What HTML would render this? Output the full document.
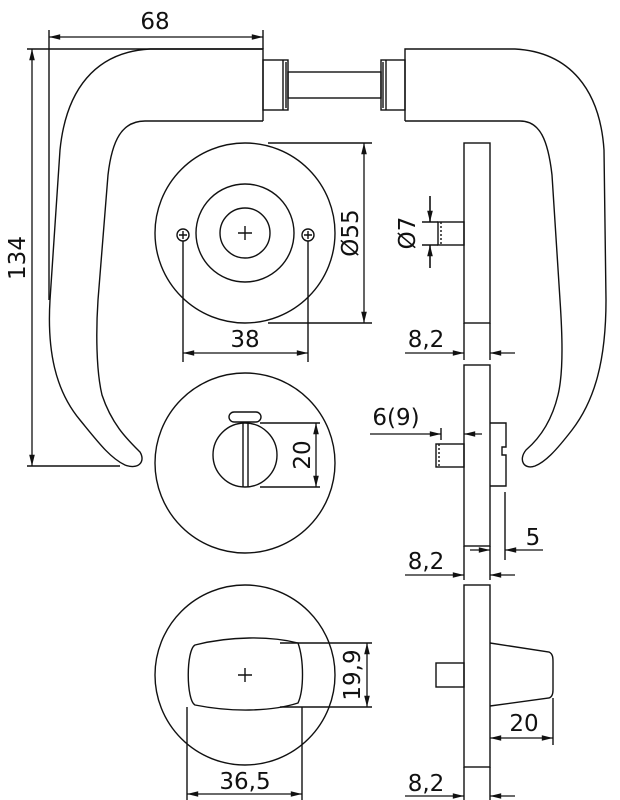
<!DOCTYPE html>
<html><head><meta charset="utf-8"><style>
html,body{margin:0;padding:0;background:#fff}
svg{display:block}
text{font-family:"DejaVu Sans","Liberation Sans",sans-serif;font-size:23px;fill:#111}
</style></head><body>
<svg width="620" height="800" viewBox="0 0 620 800" xmlns="http://www.w3.org/2000/svg">
<defs>
<marker id="a" viewBox="0 0 14 10" refX="14" refY="5" markerWidth="14" markerHeight="8" orient="auto-start-reverse" markerUnits="userSpaceOnUse"><path d="M0,1.5 L14,5 L0,8.5 Z" fill="#111"/></marker>
</defs>
<g fill="none" stroke="#111" stroke-width="1.4">
<!-- left handle -->
<path d="M263,121 L263,49 L150,49 C95,52 66,90 60,150 L50,300 C47,350 55,390 80,420 C98,442 110,458 125,465 C138,470 146,462 140,452 C128,440 112,425 102,395 C96,370 96,330 98,300 L108,175 C112,140 122,121 145,121 L263,121"/>
<rect x="263" y="60" width="25" height="50"/>
<path d="M283,60 v50 M286,62 v46"/>
<rect x="288" y="72" width="93" height="26"/>
<rect x="381" y="60" width="24" height="50"/>
<path d="M386,60 v50 M383,62 v46"/>
<!-- right handle -->
<path d="M405,121 L405,49 L515,49 C570,52 600,90 604,150 L606,300 C606,360 595,400 572,430 C555,452 545,462 535,466 C524,470 518,460 526,450 C540,438 552,420 558,395 C564,370 562,330 560,300 L552,175 C548,140 540,121 520,121 L405,121"/>
<!-- extension lines -->
<path d="M49,30 V300 M27,49 H263 M263,30 V49 M27,466 H120"/>
<!-- rosette 1 -->
<circle cx="245" cy="233" r="90"/>
<circle cx="245" cy="233" r="49"/>
<circle cx="245" cy="233" r="25"/>
<path d="M238,233 h14 M245,226 v14"/>
<circle cx="183" cy="235" r="6"/><path d="M179,235 h8 M183,231 v8"/>
<circle cx="308" cy="235" r="6"/><path d="M304,235 h8 M308,231 v8"/>
<path d="M268,143 H372 M268,323 H372 M183,241 V362 M308,241 V362"/>
<!-- side 1 -->
<rect x="464" y="143" width="26" height="180"/>
<rect x="438" y="222" width="26" height="23"/>
<path d="M441,222 v23" stroke-dasharray="2 2"/>
<path d="M430,196 V222 M430,245 V268 M422,222 H438 M422,245 H438"/>
<path d="M464,323 V360 M490,323 V360"/>
<!-- rosette 2 -->
<circle cx="245" cy="463" r="90"/>
<circle cx="245" cy="455" r="32"/>
<path d="M243,423 V487 M248,423 V487"/>
<rect x="229" y="412" width="32" height="10" rx="5"/>
<path d="M260,423 H320 M260,487 H320"/>
<!-- side 2 -->
<rect x="464" y="365" width="26" height="181"/>
<rect x="436" y="444" width="28" height="23"/>
<path d="M439,444 v23" stroke-dasharray="2 2"/>
<path d="M490,423 H506 V447 H502 V455 H506 V486 H490"/>
<path d="M505,492 V560 M464,546 V580 M490,546 V580 M441,428 V440"/>
<!-- rosette 3 -->
<circle cx="245" cy="675" r="90"/>
<path d="M195,645 C230,636 270,636 298,643 C304,660 304,690 298,703 C270,712 230,712 195,705 C186,700 186,650 195,645 Z"/>
<path d="M238,675 h14 M245,668 v14"/>
<path d="M280,643 H372 M280,707 H372 M187,707 V800 M302,707 V800"/>
<!-- side 3 -->
<rect x="464" y="585" width="26" height="182"/>
<rect x="436" y="663" width="28" height="24"/>
<path d="M490,643 L549,652 C553,654 553,658 553,662 L553,690 C553,694 552,697 549,698 L490,706"/>
<path d="M553,698 V745 M464,767 V800 M490,767 V800"/>
</g>
<g stroke="#111" stroke-width="1.3" fill="none">
<line x1="49" y1="37" x2="263" y2="37" marker-start="url(#a)" marker-end="url(#a)"/>
<line x1="32" y1="49" x2="32" y2="466" marker-start="url(#a)" marker-end="url(#a)"/>
<line x1="364" y1="143" x2="364" y2="323" marker-start="url(#a)" marker-end="url(#a)"/>
<line x1="183" y1="353" x2="308" y2="353" marker-start="url(#a)" marker-end="url(#a)"/>
<line x1="430" y1="196" x2="430" y2="222" marker-end="url(#a)"/>
<line x1="430" y1="268" x2="430" y2="245" marker-end="url(#a)"/>
<line x1="405" y1="353" x2="464" y2="353" marker-end="url(#a)"/>
<line x1="515" y1="353" x2="490" y2="353" marker-end="url(#a)"/>
<line x1="316" y1="423" x2="316" y2="487" marker-start="url(#a)" marker-end="url(#a)"/>
<line x1="370" y1="434" x2="441" y2="434" marker-end="url(#a)"/>
<line x1="482" y1="434" x2="464" y2="434" marker-end="url(#a)"/>
<line x1="470" y1="550" x2="490" y2="550" marker-end="url(#a)"/>
<line x1="543" y1="550" x2="505" y2="550" marker-end="url(#a)"/>
<line x1="405" y1="575" x2="464" y2="575" marker-end="url(#a)"/>
<line x1="515" y1="575" x2="490" y2="575" marker-end="url(#a)"/>
<line x1="367" y1="643" x2="367" y2="707" marker-start="url(#a)" marker-end="url(#a)"/>
<line x1="490" y1="738" x2="553" y2="738" marker-start="url(#a)" marker-end="url(#a)"/>
<line x1="187" y1="794" x2="302" y2="794" marker-start="url(#a)" marker-end="url(#a)"/>
<line x1="405" y1="796" x2="464" y2="796" marker-end="url(#a)"/>
<line x1="515" y1="796" x2="490" y2="796" marker-end="url(#a)"/>
</g>
<g text-anchor="middle">
<text x="155" y="29">68</text>
<text transform="translate(25,258) rotate(-90)">134</text>
<text transform="translate(358,233) rotate(-90)">Ø55</text>
<text x="245" y="347">38</text>
<text transform="translate(415,233) rotate(-90)">Ø7</text>
<text x="426" y="347">8,2</text>
<text transform="translate(310,455) rotate(-90)">20</text>
<text x="396" y="425">6(9)</text>
<text x="533" y="545">5</text>
<text x="426" y="569">8,2</text>
<text transform="translate(360,675) rotate(-90)">19,9</text>
<text x="524" y="731">20</text>
<text x="245" y="789">36,5</text>
<text x="426" y="791">8,2</text>
</g>
</svg>
</body></html>
